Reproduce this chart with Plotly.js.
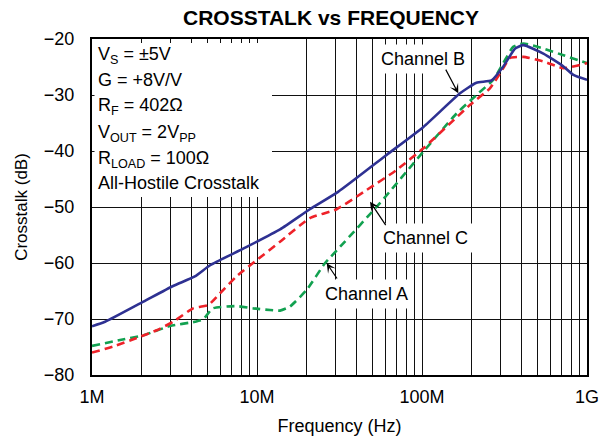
<!DOCTYPE html>
<html><head><meta charset="utf-8">
<script src="https://cdn.plot.ly/plotly-3.0.1.min.js"></script>
<style>html,body{margin:0;padding:0;background:#fff}</style>
</head><body><div id="chart" style="width:600px;height:443px"></div>
<script>
// ---- data (frequency in Hz, crosstalk in dB) ----
const freqA = [1e6, 1.48e6, 2.05e6, 2.97e6, 4.2e6, 4.7e6, 5.4e6, 7.5e6, 9.5e6, 12e6, 13.8e6, 15.8e6, 20e6, 25.8e6, 31.9e6, 55.6e6, 102e6, 162e6, 214e6, 270e6, 311e6, 357e6, 411e6, 544e6, 720e6, 1e9];
const dbA   = [-74.8, -73.75, -72.9, -71.25, -70.5, -70.1, -68.1, -67.7, -68.1, -68.4, -68.5, -67.8, -64.8, -60.05, -57.1, -49.3, -40.1, -33.3, -30.0, -27.3, -24.3, -21.4, -20.8, -21.7, -22.9, -24.3];

const freqB = [1e6, 1.2e6, 2.05e6, 3.1e6, 4.2e6, 5.2e6, 8.3e6, 13.8e6, 20.9e6, 31e6, 61e6, 102e6, 170e6, 214e6, 264e6, 311e6, 367e6, 411e6, 544e6, 720e6, 827e6, 1e9];
const dbB   = [-71.3, -70.5, -66.9, -64.1, -62.4, -60.4, -57.4, -54.0, -50.4, -47.3, -40.7, -35.7, -29.7, -27.8, -27.4, -24.9, -21.7, -21.1, -22.6, -24.9, -26.4, -27.3];

const freqC = [1e6, 1.35e6, 1.87e6, 2.47e6, 3.1e6, 4.1e6, 5.07e6, 5.97e6, 7.5e6, 9.95e6, 13.8e6, 20.9e6, 30.4e6, 46e6, 70e6, 102e6, 195e6, 258e6, 311e6, 341e6, 411e6, 544e6, 720e6, 1e9];
const dbC   = [-76.0, -74.9, -73.4, -72.0, -70.5, -68.1, -67.5, -65.4, -62.4, -59.5, -56.2, -52.0, -50.4, -47.0, -43.4, -39.5, -31.8, -28.8, -25.2, -23.4, -23.2, -24.0, -25.2, -24.3];

const xTickVals = [1e6, 1e7, 1e8, 1e9];
const xTickText = ['1M', '10M', '100M', '1G'];
const yTickVals = [-80, -70, -60, -50, -40, -30, -20];
const yTickText = ['\u221280', '\u221270', '\u221260', '\u221250', '\u221240', '\u221230', '\u221220'];

const seriesNames = ['Channel A', 'Channel B', 'Channel C'];
const infoLines = ['V<sub>S</sub> = \u00b15V', 'G = +8V/V', 'R<sub>F</sub> = 402\u03a9',
  'V<sub>OUT</sub> = 2V<sub>PP</sub>', 'R<sub>LOAD</sub> = 100\u03a9', 'All-Hostile Crosstalk'];

// ---- chart ----
const FONT = 'Liberation Sans, Arial, Helvetica, sans-serif';
const traces = [
  {x: freqA, y: dbA, name: seriesNames[0], mode: 'lines',
   line: {color: '#12a150', width: 2.6, dash: '8px,5px', shape: 'spline', smoothing: 0.5}},
  {x: freqC, y: dbC, name: seriesNames[2], mode: 'lines',
   line: {color: '#ee2229', width: 2.6, dash: '8px,5px', shape: 'spline', smoothing: 0.5}},
  {x: freqB, y: dbB, name: seriesNames[1], mode: 'lines',
   line: {color: '#2e3192', width: 2.6, shape: 'spline', smoothing: 0.5}}
];

const PT = 39, PB = 375, PL = 92, PR = 587;
const py = Y => (PB - Y) / (PB - PT);
const px = X => (X - PL) / (PR - PL);

const annotations = [];
const capCenters = [54, 79.5, 104, 131, 157.5, 182.5];
infoLines.forEach((t, i) => {
  annotations.push({text: t, xref: 'paper', yref: 'paper', x: px(96), y: py(capCenters[i]),
    xanchor: 'left', yanchor: 'middle', showarrow: false, yshift: t.includes('<sub>') ? -2 : 0,
    font: {family: FONT, size: 18, color: '#000'}});
});
const L = Math.log10;
const labels = [
  {t: seriesNames[1], x: 8.006, y: -23.57, head: [166e6, -29.7], tail: [137.8e6, -25.2]},
  {t: seriesNames[2], x: 8.021, y: -55.45, head: [48.4e6, -49.05], tail: [61.1e6, -53.5]},
  {t: seriesNames[0], x: 7.661, y: -65.54, head: [26.45e6, -60.05], tail: [31.0e6, -63.04]}
];
labels.forEach(l => {
  annotations.push({text: l.t, x: l.x, y: l.y, xref: 'x', yref: 'y', showarrow: false,
    bgcolor: '#fff', borderpad: 4, font: {family: FONT, size: 18, color: '#000'}});
  annotations.push({text: '', x: L(l.head[0]), y: l.head[1], ax: L(l.tail[0]), ay: l.tail[1],
    xref: 'x', yref: 'y', axref: 'x', ayref: 'y', showarrow: true,
    arrowhead: 3, arrowsize: 1.3, arrowwidth: 1.2, arrowcolor: '#000', standoff: 0, startstandoff: 0});
});

const layout = {
  width: 600, height: 443,
  margin: {l: PL, r: 600 - PR, t: PT, b: 443 - PB, pad: 0},
  paper_bgcolor: '#fff', plot_bgcolor: '#fff',
  showlegend: false,
  font: {family: FONT, size: 18, color: '#000'},
  title: {text: '<b>CROSSTALK vs FREQUENCY</b>', x: 331 / 600, xref: 'container', xanchor: 'center',
    y: 1 - 17.5 / 443, yref: 'container', yanchor: 'middle', font: {family: FONT, size: 21, color: '#000'}},
  xaxis: {type: 'log', range: [6, 9], tickmode: 'array', tickvals: xTickVals, ticktext: xTickText,
    ticks: '', ticklabelstandoff: 4, showgrid: true, gridcolor: '#111', gridwidth: 1,
    minor: {dtick: 'D1', showgrid: true, gridcolor: '#111', gridwidth: 1, ticks: ''},
    showline: true, mirror: true, linecolor: '#000', linewidth: 2, zeroline: false,
    tickfont: {family: FONT, size: 18}, automargin: false,
    title: {text: 'Frequency (Hz)', font: {family: FONT, size: 18}, standoff: 14}},
  yaxis: {range: [-80, -20], tickmode: 'array', tickvals: yTickVals, ticktext: yTickText,
    ticks: '', ticklabelstandoff: 12, showgrid: true, gridcolor: '#111', gridwidth: 1,
    showline: true, mirror: true, linecolor: '#000', linewidth: 2, zeroline: false,
    tickfont: {family: FONT, size: 18}, automargin: false,
    title: {text: 'Crosstalk (dB)', font: {family: FONT, size: 17}, standoff: 12}},
  shapes: [{type: 'rect', xref: 'paper', yref: 'paper', x0: px(94.5), x1: px(272), y0: py(197), y1: py(43),
    fillcolor: '#fff', line: {width: 0}, layer: 'above'}],
  annotations: annotations
};

Plotly.newPlot('chart', traces, layout, {displayModeBar: false, staticPlot: true});
</script></body></html>
